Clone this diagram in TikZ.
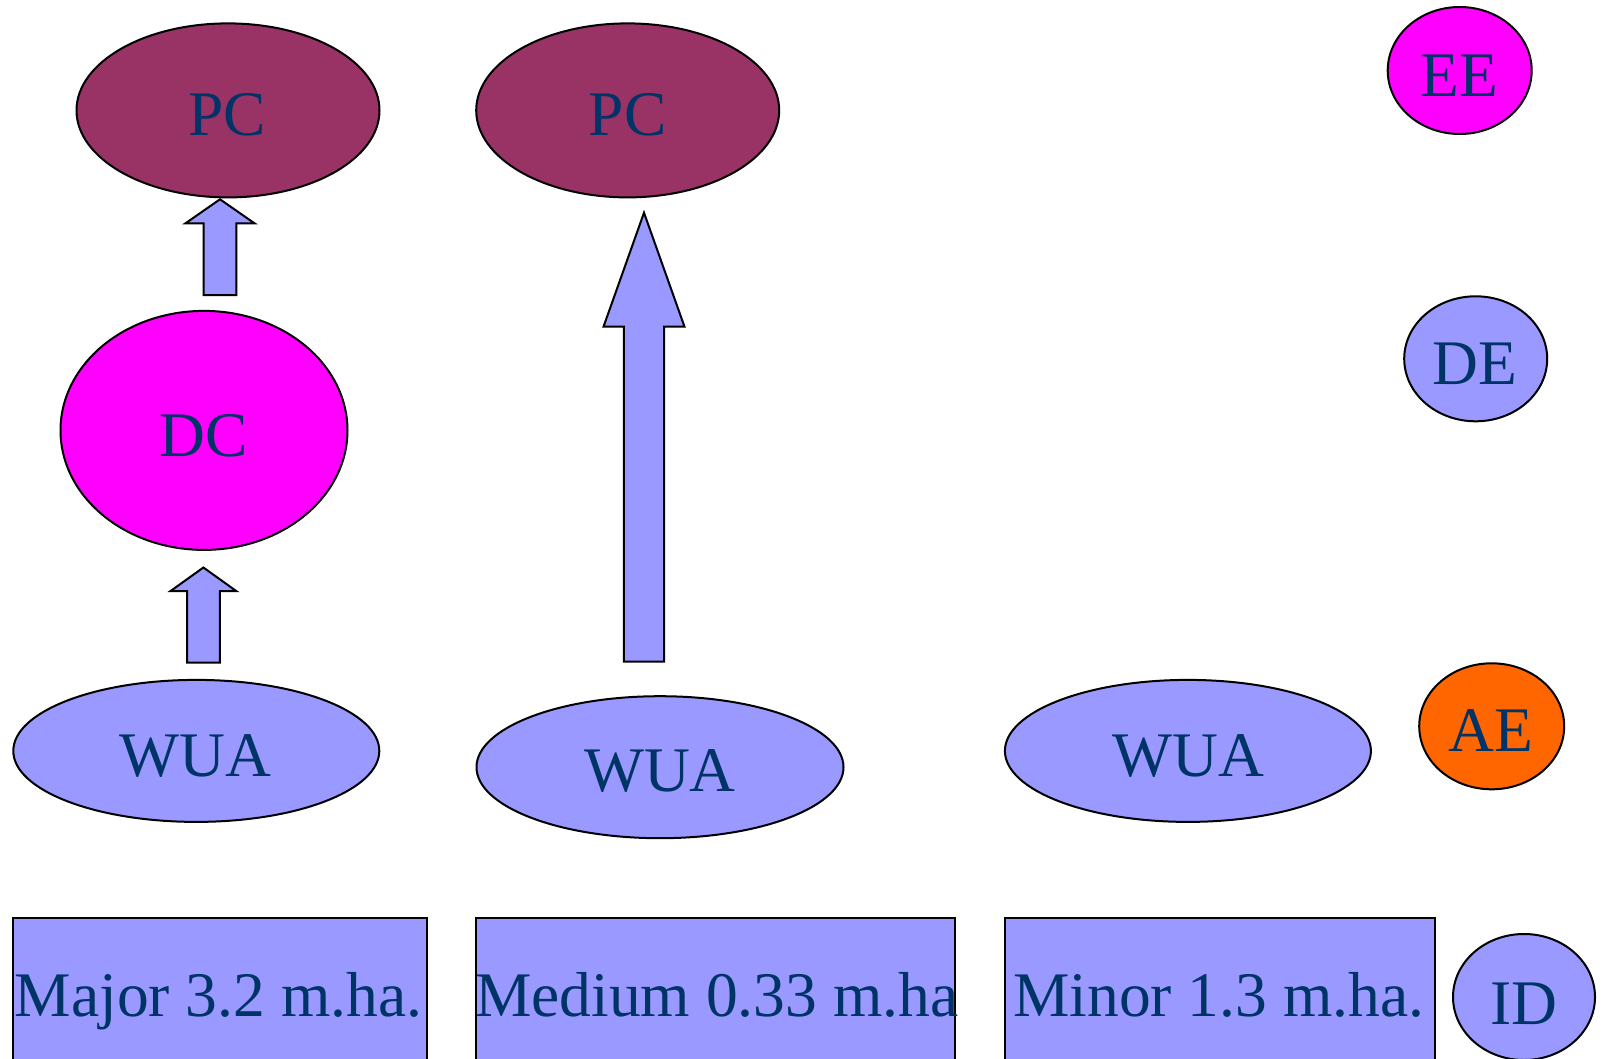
\documentclass[tikz,border=0pt]{standalone}
\usepackage{fontspec}
\setmainfont{Liberation Serif}
\usetikzlibrary{shapes.geometric,calc}

\definecolor{plum}{HTML}{993366}
\definecolor{lavender}{HTML}{9999FF}
\definecolor{magentaf}{HTML}{FF00FF}
\definecolor{orangef}{HTML}{FF6600}
\definecolor{navytext}{HTML}{003366}

\tikzset{
  oval/.style={ellipse, draw=black, line width=2pt, inner sep=0pt},
  areabox/.style={rectangle, draw=black, line width=2pt, fill=lavender, inner sep=0pt},
  lbl/.style={anchor=base, inner sep=0pt, text=navytext,
    font=\fontsize{63.5}{76}\selectfont},
  arrowbody/.style={draw=black, line width=2pt, fill=lavender, line join=miter},
}

% block arrow pointing up: #1 tip, #2 tail, #3 shaft half width,
% #4 head half width, #5 head length
\newcommand{\blockarrow}[5]{%
  \draw[arrowbody] let \p1=(#1), \p2=(#2) in
    (\p1) -- (\x1+#4pt,\y1-#5pt) -- (\x1+#3pt,\y1-#5pt) -- (\x1+#3pt,\y2)
    -- (\x1-#3pt,\y2) -- (\x1-#3pt,\y1-#5pt) -- (\x1-#4pt,\y1-#5pt) -- cycle;}

\begin{document}
\begin{tikzpicture}[x=1pt,y=-1pt]
\clip (0,0) rectangle (1603,1059);
\fill[white] (0,0) rectangle (1603,1059);

% top row
\node[oval, fill=plum, minimum width=303, minimum height=174] (pc1) at (228,110.4) {};
\node[lbl] (pc1t) at (227,136) {PC};
\node[oval, fill=plum, minimum width=303, minimum height=174] (pc2) at (627.7,110.4) {};
\node[lbl] (pc2t) at (627.7,136) {PC};

% district level
\node[oval, fill=magentaf, minimum width=287, minimum height=239] (dc) at (204,430.4) {};
\node[lbl] (dct) at (203.4,456) {DC};

% water users' associations
\node[oval, fill=lavender, minimum width=366, minimum height=142] (wua1) at (196.3,750.9) {};
\node[lbl] (wua1t) at (195.7,776.7) {WUA};
\node[oval, fill=lavender, minimum width=367, minimum height=142] (wua2) at (660,767.2) {};
\node[lbl] (wua2t) at (660,791.7) {WUA};
\node[oval, fill=lavender, minimum width=366, minimum height=142] (wua3) at (1187.9,750.9) {};
\node[lbl] (wua3t) at (1188.4,776.7) {WUA};

% project size boxes
\node[areabox, minimum width=414.6, minimum height=170] (major) at (220,1003.3) {};
\node[lbl] (majort) at (218.5,1016.7) {Major 3.2 m.ha.};
\node[areabox, minimum width=478.5, minimum height=170] (medium) at (715.65,1003.3) {};
\node[lbl] (mediumt) at (716.7,1016.7) {Medium 0.33 m.ha};
\node[areabox, minimum width=430.4, minimum height=170] (minor) at (1220.1,1003.3) {};
\node[lbl] (minort) at (1218.7,1016.7) {Minor 1.3 m.ha.};

% right-hand column
\node[oval, fill=magentaf, minimum width=144, minimum height=127] (ee) at (1459.7,70.5) {};
\node[lbl] (eet) at (1459.5,96.7) {EE};
\node[oval, fill=lavender, minimum width=143, minimum height=125] (de) at (1475.7,358.8) {};
\node[lbl] (det) at (1475.3,384) {DE};
\node[oval, fill=orangef, minimum width=145, minimum height=126] (ae) at (1491.7,726.3) {};
\node[lbl] (aet) at (1491.3,751.7) {AE};
\node[oval, fill=lavender, minimum width=142, minimum height=126] (id) at (1524,997) {};
\node[lbl] (idt) at (1524.3,1024) {ID};

% block arrows between levels
\coordinate (a1tip)  at ($(pc1.south)+(-8,0.9)$);
\coordinate (a1tail) at ($(dc.north)+(16,-14.8)$);
\blockarrow{a1tip}{a1tail}{16.4}{34.5}{24}

\coordinate (a2tip)  at ($(dc.south)+(-0.6,16.6)$);
\coordinate (a2tail) at ($(wua1.north)+(7,-16.3)$);
\blockarrow{a2tip}{a2tail}{16.4}{32.8}{23.5}

\coordinate (a3tip)  at ($(pc2.south)+(16.3,14.3)$);
\coordinate (a3tail) at ($(wua2.north)+(-16,-33.7)$);
\blockarrow{a3tip}{a3tail}{20.2}{40.5}{114}
\end{tikzpicture}
\end{document}
